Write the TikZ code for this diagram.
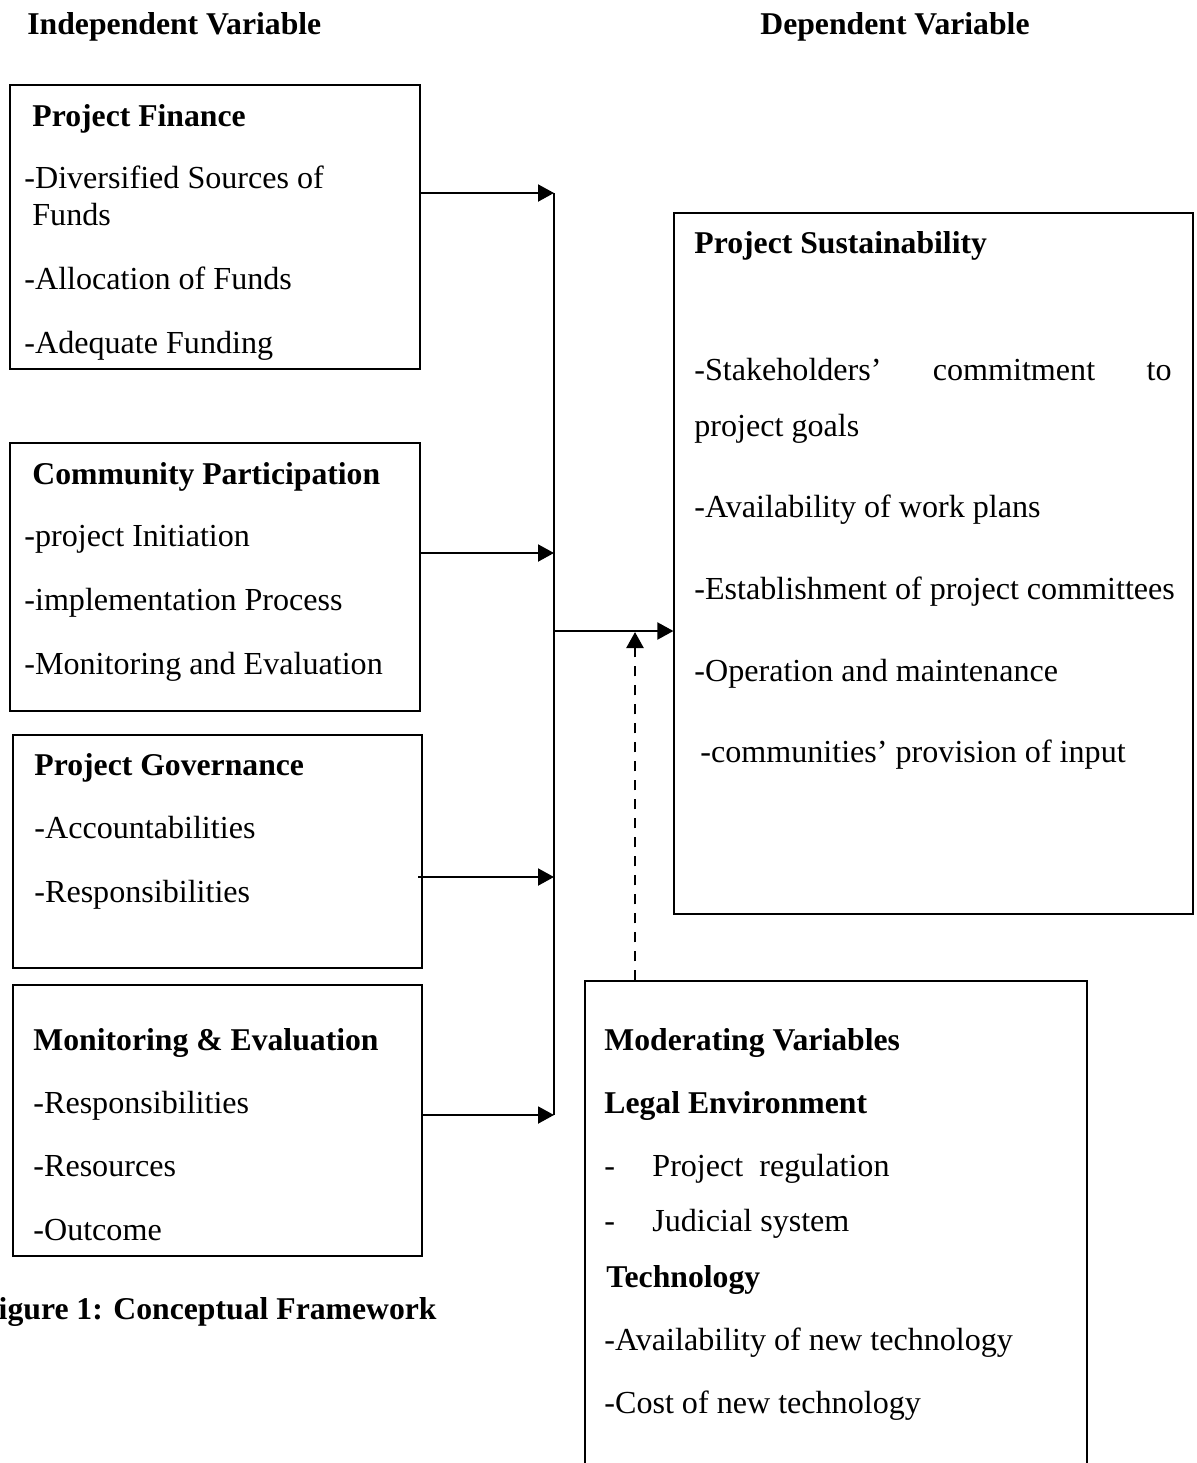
\documentclass[tikz,border=0pt]{standalone}
\usepackage{fontspec}
\setmainfont{Liberation Serif}
\usetikzlibrary{arrows.meta,fit}
\begin{document}
\begin{tikzpicture}[x=0.5pt,y=-0.5pt,
  box/.style={draw, line width=0.6pt, inner sep=0pt},
  txt/.style={anchor=base west, inner sep=0pt, font=\fontsize{16.05}{19}\selectfont},
  hd/.style={txt, font=\fontsize{15.85}{19}\selectfont\bfseries},
  arr/.style={line width=1pt, -{Triangle[length=8pt,width=8.5pt]}},
  dasharr/.style={arr, line width=1.2pt, dash pattern=on 5pt off 4.5pt},
  ln/.style={line width=1pt}]
\useasboundingbox (0,0) rectangle (1197,1463);

% headings
\node[hd] (hind) at (27,34) {Independent Variable};
\node[hd] (hdep) at (760,34) {Dependent Variable};

% boxes
\node[box, fit={(10,85) (420,369)}] (pf) {};
\node[box, fit={(10,443) (420,711)}] (cp) {};
\node[box, fit={(13,735) (422,968)}] (pg) {};
\node[box, fit={(13,985) (422,1256)}] (me) {};
\node[box, fit={(674,213) (1193,914)}] (ps) {};
\node[box, fit={(585,981) (1087,1480)}] (mv) {};

% Project Finance
\node[hd] (pf0) at (32,126) {Project Finance};
\node[txt] (pf1) at (24,188) {-Diversified Sources of};
\node[txt] (pf2) at (32,225) {Funds};
\node[txt] (pf3) at (24,289) {-Allocation of Funds};
\node[txt] (pf4) at (24,353) {-Adequate Funding};

% Community Participation
\node[hd] (cp0) at (32,484) {Community Participation};
\node[txt] (cp1) at (24,546) {-project Initiation};
\node[txt] (cp2) at (24,610) {-implementation Process};
\node[txt] (cp3) at (24,674) {-Monitoring and Evaluation};

% Project Governance
\node[hd] (pg0) at (34,775) {Project Governance};
\node[txt] (pg1) at (34,838) {-Accountabilities};
\node[txt] (pg2) at (34,902) {-Responsibilities};

% Monitoring & Evaluation
\node[hd] (me0) at (33,1050) {Monitoring \& Evaluation};
\node[txt] (me1) at (33,1113) {-Responsibilities};
\node[txt] (me2) at (33,1176) {-Resources};
\node[txt] (me3) at (33,1240) {-Outcome};

% caption (left part is cut off in the reference)
\node[hd, anchor=base east] (cap) at (437,1319) {igure 1: Conceptual Framework};

% Project Sustainability
\node[hd] (ps0) at (694,253) {Project Sustainability};
\node[txt] (ps1a) at (694,380) {-Stakeholders’};
\node[txt, anchor=base] (ps1b) at (1014,380) {commitment};
\node[txt, anchor=base east] (ps1c) at (1172,380) {to};
\node[txt] (ps2) at (694,436) {project goals};
\node[txt] (ps3) at (694,517) {-Availability of work plans};
\node[txt] (ps4) at (694,599) {-Establishment of project committees};
\node[txt] (ps5) at (694,681) {-Operation and maintenance};
\node[txt] (ps6) at (700,762) {-communities’ provision of input};

% Moderating Variables
\node[hd] (mv0) at (604,1050) {Moderating Variables};
\node[hd] (mv1) at (604,1113) {Legal Environment};
\node[txt] (mv2d) at (604,1176) {-};
\node[txt] (mv2) at (652,1176) {Project\ \ regulation};
\node[txt] (mv3d) at (604,1231) {-};
\node[txt] (mv3) at (652,1231) {Judicial system};
\node[hd] (mv4) at (606,1287) {Technology};
\node[txt] (mv5) at (604,1350) {-Availability of new technology};
\node[txt] (mv6) at (604,1413) {-Cost of new technology};

% connectors
\coordinate (jt) at (554,193);
\coordinate (j2) at (554,553);
\coordinate (jm) at (554,631);
\coordinate (j3) at (554,877);
\coordinate (jb) at (554,1115);
\coordinate (g0) at (418,877);
\coordinate (dt) at (635,632);

\draw[ln] (jt) -- (jb);
\draw[arr] (pf.east |- jt) -- (jt);
\draw[arr] (cp.east |- j2) -- (j2);
\draw[arr] (g0) -- (j3);
\draw[arr] (me.east |- jb) -- (jb);
\draw[arr] (jm) -- (ps.west |- jm);
\draw[dasharr] (mv.north -| dt) -- (dt);
\end{tikzpicture}
\end{document}
